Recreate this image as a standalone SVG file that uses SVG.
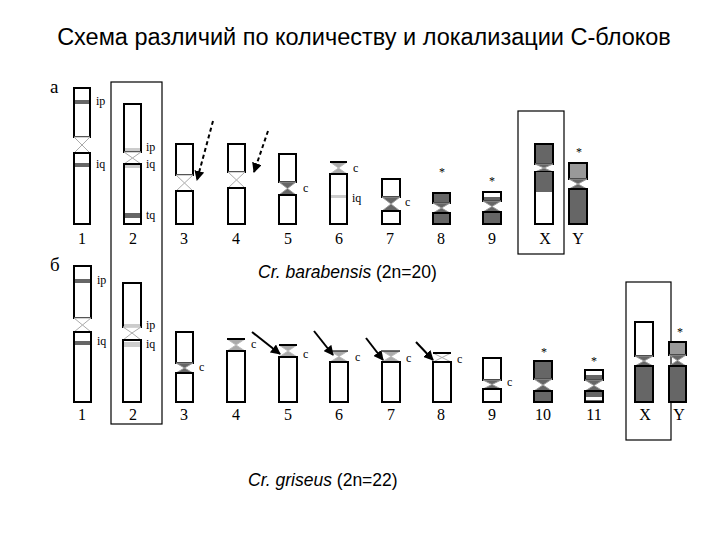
<svg xmlns="http://www.w3.org/2000/svg" width="720" height="540" viewBox="0 0 720 540">
<style>
.a{fill:#fff;stroke:#000;stroke-width:2}
.d{fill:#666;stroke:#000;stroke-width:2}
.g{fill:#999;stroke:#000;stroke-width:2}
.bw{fill:#fff;stroke:#aaa;stroke-width:1}
.bd{fill:#666;stroke:#999;stroke-width:1}
.bg{fill:#aaa;stroke:#bbb;stroke-width:1}
.bk{fill:#666}
.bl{fill:#ccc}
.t{font-family:"Liberation Serif",serif;font-size:12px;fill:#000}
.n{font-family:"Liberation Serif",serif;font-size:16px;fill:#000;text-anchor:middle}
.box{fill:none;stroke:#000;stroke-width:1.2}
.s{font-family:"Liberation Sans",sans-serif;font-size:17.5px;fill:#000}
</style>
<defs>
<marker id="ah" viewBox="0 0 10 10" refX="9" refY="5" markerWidth="5" markerHeight="5" orient="auto"><path d="M0,0L10,5L0,10z" fill="#000"/></marker>
</defs>
<rect width="720" height="540" fill="#fff"/>
<text x="364" y="45" text-anchor="middle" font-family="Liberation Sans,sans-serif" font-size="23.5">Схема различий по количеству и локализации С-блоков</text>
<text x="50" y="93" font-family="Liberation Serif,serif" font-size="19">а</text>
<text x="50" y="271" font-family="Liberation Serif,serif" font-size="19">б</text>
<text x="258" y="278" class="s"><tspan font-style="italic">Cr. barabensis</tspan> (2n=20)</text>
<text x="248" y="486" class="s"><tspan font-style="italic">Cr. griseus</tspan> (2n=22)</text>
<g id="boxes">
<rect class="box" x="111" y="82" width="51" height="342"/>
<rect class="box" x="518" y="111" width="46" height="143"/>
<rect class="box" x="626" y="282" width="45" height="158"/>
</g>
<g id="a1"><rect class="a" x="74" y="88" width="16" height="49"/><polygon class="bw" points="74,137 90,137 82,145 90,153 74,153 82,145"/><rect class="a" x="74" y="153" width="16" height="71"/><rect class="bk" x="75" y="100" width="14" height="4"/><rect class="bk" x="75" y="163" width="14" height="4"/><text class="t" x="96" y="105">ip</text><text class="t" x="96" y="168">iq</text></g>
<g id="a2"><rect class="a" x="124" y="104" width="17" height="48"/><polygon class="bw" points="124,152 141,152 132.5,158 141,164 124,164 132.5,158"/><rect class="a" x="124" y="164" width="17" height="60"/><rect class="bl" x="125" y="148" width="15" height="3"/><rect class="bl" x="125" y="165" width="15" height="3"/><rect class="bk" x="125" y="213" width="15" height="5"/><text class="t" x="146" y="151">ip</text><text class="t" x="146" y="168">iq</text><text class="t" x="146" y="219">tq</text></g>
<g id="a3"><rect class="a" x="176" y="144" width="17" height="31"/><polygon class="bw" points="176,175 193,175 184.5,183 193,191 176,191 184.5,183"/><rect class="a" x="176" y="191" width="17" height="33"/></g>
<g id="a4"><rect class="a" x="228" y="144" width="17" height="28"/><polygon class="bw" points="228,172 245,172 236.5,180 245,188 228,188 236.5,180"/><rect class="a" x="228" y="188" width="17" height="36"/></g>
<g id="a5"><rect class="a" x="279" y="154" width="17" height="28"/><polygon class="bd" points="279,182 296,182 287.5,188.5 296,195 279,195 287.5,188.5"/><rect class="a" x="279" y="195" width="17" height="29"/><text class="t" x="303" y="192">c</text></g>
<g id="a6"><polygon class="bg" points="330,162 347,162 338.5,168 347,174 330,174 338.5,168"/><line x1="330" y1="162" x2="347" y2="162" stroke="#000" stroke-width="2"/><rect class="a" x="330" y="174" width="17" height="50"/><rect class="bl" x="331" y="195" width="15" height="3"/><text class="t" x="353" y="172">c</text><text class="t" x="352" y="202">iq</text></g>
<g id="a7"><rect class="a" x="382" y="179" width="18" height="18"/><polygon class="bd" points="382,197 400,197 391,204 400,211 382,211 391,204"/><rect class="a" x="382" y="211" width="18" height="13"/><text class="t" x="405" y="206">c</text></g>
<g id="a8"><rect class="d" x="433" y="193" width="17" height="10"/><polygon class="bd" points="433,203 450,203 441.5,208 450,213 433,213 441.5,208"/><rect class="d" x="433" y="213" width="17" height="11"/><text class="t" x="439" y="176" font-size="9">*</text></g>
<g id="a9"><rect class="d" x="483" y="192" width="18" height="9"/><rect x="484" y="193" width="16" height="4" fill="#fff"/><polygon class="bd" points="483,201 501,201 492,206.5 501,212 483,212 492,206.5"/><rect class="d" x="483" y="212" width="18" height="12"/><text class="t" x="489" y="185" font-size="9">*</text></g>
<g id="aX"><rect class="d" x="535" y="144" width="18" height="20"/><polygon class="bd" points="535,164 553,164 544,168 553,172 535,172 544,168"/><rect class="a" x="535" y="172" width="18" height="52"/><rect class="bk" x="536" y="172" width="16" height="20"/><text class="n" x="545" y="244">X</text></g>
<g id="aY"><rect class="g" x="569" y="163" width="18" height="16"/><polygon class="bd" points="569,179 587,179 578,184 587,189 569,189 578,184"/><rect class="d" x="569" y="189" width="18" height="35"/><text class="t" x="576" y="156" font-size="10">*</text><text class="n" x="578" y="244">Y</text></g>
<g id="topnums">
<text class="n" x="82" y="244">1</text><text class="n" x="133" y="244">2</text><text class="n" x="184" y="244">3</text><text class="n" x="236" y="244">4</text><text class="n" x="288" y="244">5</text><text class="n" x="339" y="244">6</text><text class="n" x="390" y="244">7</text><text class="n" x="441" y="244">8</text><text class="n" x="492" y="244">9</text>
</g>
<g id="b1"><rect class="a" x="74" y="266" width="17" height="52"/><polygon class="bw" points="74,318 91,318 82.5,325 91,332 74,332 82.5,325"/><rect class="a" x="74" y="332" width="17" height="70"/><rect class="bk" x="75" y="279" width="15" height="4"/><rect class="bk" x="75" y="341" width="15" height="4"/><text class="t" x="97" y="284">ip</text><text class="t" x="97" y="345">iq</text></g>
<g id="b2"><rect class="a" x="123" y="283" width="18" height="44"/><polygon class="bw" points="123,327 141,327 132,333 141,340 123,340 132,333"/><rect class="a" x="123" y="340" width="18" height="62"/><rect class="bl" x="124" y="324" width="16" height="3"/><rect class="bl" x="124" y="342" width="16" height="5"/><text class="t" x="146" y="329">ip</text><text class="t" x="146" y="348">iq</text></g>
<g id="b3"><rect class="a" x="176" y="332" width="17" height="31"/><polygon class="bd" points="176,363 193,363 184.5,368 193,373 176,373 184.5,368"/><rect class="a" x="176" y="373" width="17" height="29"/><text class="t" x="199" y="371">c</text></g>
<g id="b4"><polygon class="bg" points="227,339 245,339 236,345 245,351 227,351 236,345"/><line x1="227" y1="339" x2="245" y2="339" stroke="#000" stroke-width="2"/><rect class="a" x="227" y="351" width="18" height="51"/><text class="t" x="251" y="348">c</text></g>
<g id="b5"><polygon class="bg" points="279,345 297,345 288,351 297,357 279,357 288,351"/><line x1="279" y1="345" x2="297" y2="345" stroke="#000" stroke-width="2"/><rect class="a" x="279" y="357" width="18" height="45"/><text class="t" x="303" y="358">c</text></g>
<g id="b6"><polygon class="bg" points="330,351 348,351 339,356.5 348,362 330,362 339,356.5"/><line x1="330" y1="351" x2="348" y2="351" stroke="#000" stroke-width="1"/><rect class="a" x="330" y="362" width="18" height="40"/><text class="t" x="355" y="361">c</text></g>
<g id="b7"><polygon class="bg" points="382,351 400,351 391,356.5 400,362 382,362 391,356.5"/><line x1="382" y1="351" x2="400" y2="351" stroke="#000" stroke-width="1"/><rect class="a" x="382" y="362" width="18" height="40"/><text class="t" x="406" y="362">c</text></g>
<g id="b8"><polygon class="bw" points="433,353 451,353 442,357.5 451,362 433,362 442,357.5"/><line x1="433" y1="353" x2="451" y2="353" stroke="#000" stroke-width="2"/><rect class="a" x="433" y="362" width="18" height="40"/><text class="t" x="457" y="363">c</text></g>
<g id="b9"><rect class="a" x="483" y="358" width="18" height="22"/><polygon class="bd" points="483,380 501,380 492,384.5 501,389 483,389 492,384.5"/><rect class="a" x="483" y="389" width="18" height="13"/><text class="t" x="507" y="386">c</text></g>
<g id="b10"><rect class="d" x="534" y="361" width="18" height="18"/><polygon class="bd" points="534,379 552,379 543,385 552,391 534,391 543,385"/><rect class="d" x="534" y="391" width="18" height="11"/><text class="t" x="541" y="356" font-size="9">*</text></g>
<g id="b11"><rect class="d" x="585" y="370" width="18" height="10"/><rect x="586" y="371" width="16" height="4" fill="#fff"/><polygon class="bd" points="585,380 603,380 594,385.5 603,391 585,391 594,385.5"/><rect class="d" x="585" y="391" width="18" height="11"/><rect x="586" y="397" width="16" height="3" fill="#fff"/><text class="t" x="591" y="365" font-size="9">*</text></g>
<g id="bX"><rect class="a" x="635" y="322" width="18" height="34"/><polygon class="bd" points="635,356 653,356 644,361 653,366 635,366 644,361"/><rect class="d" x="635" y="366" width="18" height="36"/><text class="n" x="645" y="420">X</text></g>
<g id="bY"><rect class="g" x="669" y="342" width="17" height="13"/><polygon class="bd" points="669,355 686,355 677.5,360.5 686,366 669,366 677.5,360.5"/><rect class="d" x="669" y="366" width="17" height="36"/><text class="t" x="677" y="336" font-size="10">*</text><text class="n" x="679" y="420">Y</text></g>
<g id="botnums">
<text class="n" x="82" y="420">1</text><text class="n" x="133" y="420">2</text><text class="n" x="184" y="420">3</text><text class="n" x="236" y="420">4</text><text class="n" x="288" y="420">5</text><text class="n" x="339" y="420">6</text><text class="n" x="391" y="420">7</text><text class="n" x="441" y="420">8</text><text class="n" x="492" y="420">9</text><text class="n" x="543" y="420">10</text><text class="n" x="594" y="420">11</text>
</g>
<g id="connectors" stroke="#000" stroke-width="2" fill="none">
<line x1="213" y1="121" x2="197" y2="180" stroke-dasharray="4,3" marker-end="url(#ah)"/>
<line x1="268" y1="131" x2="254" y2="172" stroke-dasharray="4,3" marker-end="url(#ah)"/>
<line x1="252" y1="332" x2="280" y2="354" marker-end="url(#ah)"/>
<line x1="314" y1="331" x2="333" y2="355" marker-end="url(#ah)"/>
<line x1="366" y1="338" x2="383" y2="360" marker-end="url(#ah)"/>
<line x1="416" y1="342" x2="433" y2="360" marker-end="url(#ah)"/>
</g>
</svg>
